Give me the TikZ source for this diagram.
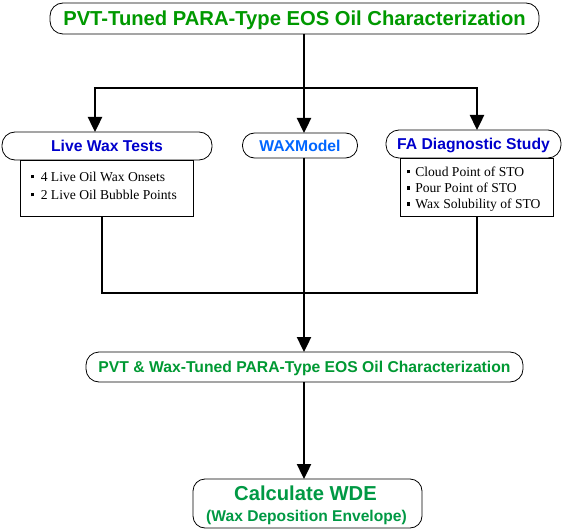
\documentclass[tikz,border=0pt]{standalone}
\usepackage{fontspec}
\setmainfont{Liberation Serif}
\newfontfamily\arialf{Liberation Sans}
\usetikzlibrary{arrows.meta}
\definecolor{topgreen}{RGB}{0,153,0}
\definecolor{midgreen}{RGB}{0,153,51}
\definecolor{botgreen}{RGB}{0,153,68}
\definecolor{darkblue}{RGB}{0,0,204}
\definecolor{lightblue}{RGB}{0,102,255}
\newcommand\sqb{\rule[3.2bp]{3.4bp}{3.4bp}}
\begin{document}
\begin{tikzpicture}[x=1bp,y=-1bp,
  box/.style={draw, line width=0.8bp, rounded corners=#1, inner sep=0pt, outer sep=0pt},
  plainbox/.style={draw, line width=0.8bp, inner sep=0pt, outer sep=0pt},
  bigfont/.style={font=\fontsize{20.2bp}{24bp}\selectfont\arialf\bfseries, text height=14.5bp, text depth=0pt},
  midfont/.style={font=\fontsize{15.7bp}{19bp}\selectfont\arialf\bfseries, text height=11.2bp, text depth=0pt},
  bulfont/.style={font=\fontsize{13.6bp}{16bp}\selectfont, anchor=base west, inner sep=0pt},
  conn/.style={line width=2.4bp},
  arr/.style={conn, -{Triangle[length=15bp,width=14bp]}}]
\fill[white] (0,0) rectangle (564,530);
\useasboundingbox (0,0) rectangle (564,530);

% boxes
\node[box=13bp, bigfont, text=topgreen, minimum width=489bp, minimum height=31bp] (top) at (294.5,18.5) {PVT-Tuned PARA-Type EOS Oil Characterization};

\node[plainbox, minimum width=173bp, minimum height=56bp] (liveinner) at (107,188) {};
\node[box=13bp, midfont, text=darkblue, minimum width=210bp, minimum height=28bp] (live) at (107,146) {Live Wax Tests};
\node[bulfont] (l1) at (30.7,181.5) {\sqb\hspace{6.5bp}4 Live Oil Wax Onsets};
\node[bulfont] (l2) at (30.7,199.5) {\sqb\hspace{6.5bp}2 Live Oil Bubble Points};

\node[box=12bp, midfont, text=lightblue, minimum width=115bp, minimum height=25bp] (wax) at (300,145.5) {WAXModel};

\node[plainbox, minimum width=153bp, minimum height=58bp] (fainner) at (476.5,187) {};
\node[box=13bp, midfont, text=darkblue, minimum width=175bp, minimum height=28bp] (fa) at (473.5,144) {FA Diagnostic Study};
\node[bulfont] (f1) at (406.7,176.5) {\sqb\hspace{5bp}Cloud Point of STO};
\node[bulfont] (f2) at (406.7,192.8) {\sqb\hspace{5bp}Pour Point of STO};
\node[bulfont] (f3) at (406.7,209) {\sqb\hspace{5bp}Wax Solubility of STO};

\node[box=13bp, midfont, text=midgreen, minimum width=437bp, minimum height=30bp] (mid) at (304.5,367) {PVT \& Wax-Tuned PARA-Type EOS Oil Characterization};

\node[box=12bp, minimum width=229bp, minimum height=49bp] (bot) at (307.5,503.5) {};
\node[font=\fontsize{20.2bp}{24bp}\selectfont\arialf\bfseries, text=botgreen, anchor=base, inner sep=0pt] (b1) at (305.5,500) {Calculate WDE};
\node[font=\fontsize{15.6bp}{19bp}\selectfont\arialf\bfseries, text=botgreen, anchor=base, inner sep=0pt] (b2) at (306.5,521) {(Wax Deposition Envelope)};

% connectors
\coordinate (jc) at (304,88);
\coordinate (jl) at (95,88);
\coordinate (jr) at (477,88);
\coordinate (bl) at (102,293);
\coordinate (br) at (477,293);

\draw[arr] (top.south -| jc) -- (wax.north -| jc);
\draw[conn] ([xshift=-1.2bp]jl) -- ([xshift=1.2bp]jr);
\draw[arr] ([yshift=-1.2bp]jl) -- (live.north -| jl);
\draw[arr] ([yshift=-1.2bp]jr) -- (fa.north -| jr);
\draw[conn] (liveinner.south -| bl) -- (bl) -- (br) -- (fainner.south -| br);
\draw[arr] (wax.south -| jc) -- (mid.north -| jc);
\draw[arr] (mid.south -| jc) -- (bot.north -| jc);
\end{tikzpicture}
\end{document}
